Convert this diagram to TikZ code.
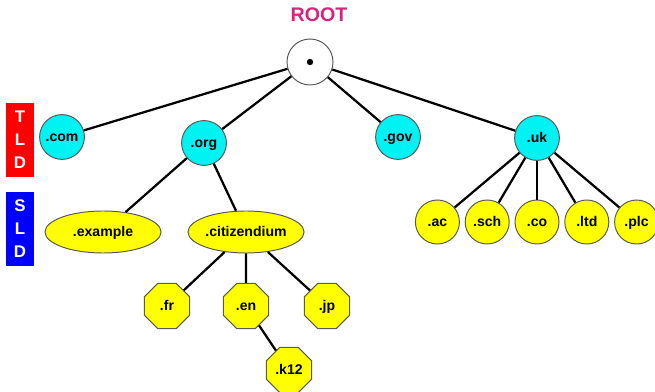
\documentclass[tikz,border=0pt]{standalone}
\usepackage{fontspec}
\setmainfont{Liberation Sans}
\usepackage{xcolor}
\usetikzlibrary{shapes.geometric,positioning}
\definecolor{rootpink}{HTML}{D6247A}
\definecolor{tldcyan}{HTML}{00F2F2}
\definecolor{sldyellow}{HTML}{FFFF00}
\definecolor{bordergray}{HTML}{5A5A5A}
\definecolor{tldred}{HTML}{FF0000}
\definecolor{sldblue}{HTML}{0000FF}

\begin{document}
\begin{tikzpicture}[
  x=0.025cm, y=-0.025cm,
  line width=1.6pt,
  label/.style={font=\bfseries\fontsize{10}{12}\selectfont, inner sep=0pt, text height=7pt, text depth=1pt},
  level/.style={rectangle, minimum width=0.7cm, minimum height=1.83cm, text=white, align=center, font=\bfseries\fontsize{12}{16.4}\selectfont},
  root/.style={circle, draw=bordergray, line width=0.7pt, fill=white, minimum size=1.15cm},
  tld/.style={label, circle, draw=bordergray, line width=0.7pt, fill=tldcyan, minimum size=1.12cm},
  sld/.style={label, ellipse, draw=bordergray, line width=0.7pt, fill=sldyellow, minimum width=2.9cm, minimum height=1.05cm},
  sub/.style={label, circle, draw=bordergray, line width=0.7pt, fill=sldyellow, minimum size=1.1cm},
  leaf/.style={label, regular polygon, regular polygon sides=8, draw=bordergray, line width=0.7pt, fill=sldyellow, minimum size=1.22cm},
  link/.style={draw=black, line width=1.6pt}
]
  \useasboundingbox (0,0) rectangle (655,392);

  % level markers
  \node[level, fill=tldred] (tldbox) at (20,140) {T\\L\\D};
  \node[level, fill=sldblue] (sldbox) at (20,229) {S\\L\\D};

  % root
  \node[font=\bfseries\fontsize{14}{16}\selectfont, text=rootpink] (rootlabel) at (319,15) {ROOT};
  \node[root] (root) at (310,62) {};
  \fill (root.center) circle (3.2);

  % top level domains
  \node[tld] (com) at (62,137) {.com};
  \node[tld] (org) at (204,143) {.org};
  \node[tld] (gov) at (398,137) {.gov};
  \node[tld] (uk) at (537,138) {.uk};

  % second level
  \node[sld] (example) at (103,232) {.example};
  \node[sld] (citizendium) at (246,232) {.citizendium};
  \node[sub] (co) at (537,222) {.co};
  \node[sub, left=0.12cm of co] (sch) {.sch};
  \node[sub, left=0.12cm of sch] (ac) {.ac};
  \node[sub, right=0.12cm of co] (ltd) {.ltd};
  \node[sub, right=0.12cm of ltd] (plc) {.plc};

  % below citizendium
  \node[leaf] (fr) at (167,306) {.fr};
  \node[leaf] (en) at (246,306) {.en};
  \node[leaf] (jp) at (327,306) {.jp};
  \node[leaf] (k12) at (289,370) {.k12};

  \draw[link] (root) -- (com);
  \draw[link] (root) -- (org);
  \draw[link] (root) -- (gov);
  \draw[link] (root) -- (uk);
  \draw[link] (org) -- (example);
  \draw[link] (org) -- (citizendium);
  \draw[link] (citizendium) -- (fr);
  \draw[link] (citizendium) -- (en);
  \draw[link] (citizendium) -- (jp);
  \draw[link] (en) -- (k12);
  \foreach \n in {ac,sch,co,ltd,plc}
    \draw[link] (uk) -- (\n);
\end{tikzpicture}
\end{document}
